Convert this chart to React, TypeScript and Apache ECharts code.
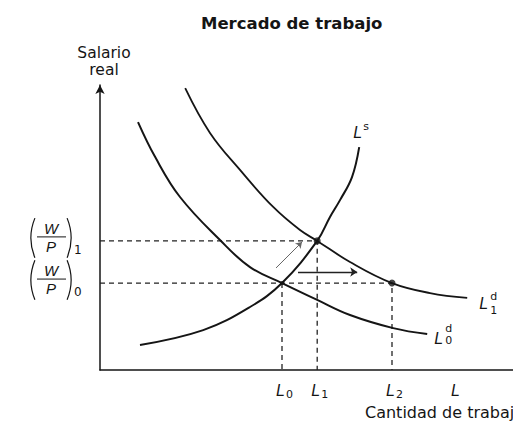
import React, { useEffect, useRef } from "react";
import * as echarts from "echarts";

// Labour supply curve L^s
const supplyX = [1.0, 2.58, 3.75, 4.55, 5.43, 5.75, 6.0, 6.3, 6.48];
const supplyY = [0.88, 1.4, 2.21, 3.05, 4.53, 5.37, 5.96, 6.77, 7.82];
// Labour demand curve L0^d
const demand0X = [0.95, 1.38, 2.0, 3.0, 3.75, 4.55, 5.43, 6.25, 7.33, 8.18];
const demand0Y = [8.7, 7.47, 6.07, 4.56, 3.61, 3.05, 2.46, 1.93, 1.47, 1.26];
// Labour demand curve L1^d
const demand1X = [2.13, 2.75, 3.5, 4.33, 5.0, 5.43, 6.25, 7.3, 8.25, 9.18];
const demand1Y = [9.89, 8.32, 7.02, 5.72, 4.91, 4.53, 3.79, 3.05, 2.7, 2.53];
// Real wage levels (W/P)0, (W/P)1
const wageLevels = [3.05, 4.53];
const wageSubs = ["0", "1"];
// Employment levels L0, L1, L2 and the "L" axis mark
const employmentLevels = [4.55, 5.43, 7.3];
const employmentSubs = ["0", "1", "2"];
const axisMarkL = 8.9;
// Shift arrows
const shiftArrowFrom = [4.95, 3.44];
const shiftArrowTo = [6.43, 3.44];
const wageArrowFrom = [4.4, 3.58];
const wageArrowTo = [5.05, 4.49];

const SANS = "DejaVu Sans";
const ITAL = "Liberation Sans";
const INK = "#151515";

function txt(x: number, y: number, text: string, size: number, opts: any = {}) {
  return {
    type: "text",
    x,
    y,
    silent: true,
    style: {
      text,
      fontSize: size,
      fontFamily: opts.family || SANS,
      fontStyle: opts.italic ? "italic" : "normal",
      fontWeight: opts.bold ? "bold" : "normal",
      fill: INK,
      textAlign: opts.align || "left",
      align: opts.align || "left",
      textVerticalAlign: opts.valign || "top",
      verticalAlign: opts.valign || "top",
    },
  };
}

export default function App() {
  const ref = useRef<HTMLDivElement>(null);
  useEffect(() => {
    const el = ref.current!;
    const chart = echarts.init(el, null, { renderer: "svg" });
    const pair = (xs: number[], ys: number[]) => xs.map((x, i) => [x, ys[i]]);
    const curve = (xs: number[], ys: number[], w: number) => ({
      type: "line",
      data: pair(xs, ys),
      smooth: 0.4,
      symbol: "none",
      showSymbol: false,
      silent: true,
      z: 3,
      lineStyle: { color: INK, width: w },
    });
    const dashed = (pts: number[][]) => ({
      type: "line",
      data: pts,
      symbol: "none",
      silent: true,
      z: 2,
      lineStyle: { color: "#222", width: 1.3, type: [5, 4] },
    });
    const [w0, w1] = wageLevels;
    const [L0, L1, L2] = employmentLevels;
    const axisBase = {
      type: "value",
      axisTick: { show: false },
      axisLabel: { show: false },
      splitLine: { show: false },
    };
    chart.setOption({
      animation: false,
      title: {
        text: "Mercado de trabajo",
        left: 196,
        top: 10,
        textStyle: { fontFamily: SANS, fontWeight: "bold", fontSize: 16.5, color: INK },
      },
      grid: { left: 100, right: 0, top: 85, bottom: 56 },
      xAxis: {
        ...axisBase,
        min: 0,
        max: 10.325,
        axisLine: { show: true, onZero: false, lineStyle: { color: INK, width: 1.5 } },
      },
      yAxis: {
        ...axisBase,
        min: 0,
        max: 10,
        axisLine: {
          show: true,
          onZero: false,
          symbol: ["none", "arrow"],
          symbolSize: [7, 9],
          lineStyle: { color: INK, width: 1.5 },
        },
      },
      series: [
        dashed([[0, w1], [L1, w1], [L1, 0]]),
        dashed([[0, w0], [L2, w0], [L2, 0]]),
        dashed([[L0, w0], [L0, 0]]),
        curve(supplyX, supplyY, 2),
        curve(demand0X, demand0Y, 2),
        curve(demand1X, demand1Y, 1.8),
        {
          type: "scatter",
          data: [[L1, w1], [L2, w0]],
          symbolSize: 7,
          itemStyle: { color: INK },
          silent: true,
          z: 4,
        },
        {
          type: "scatter",
          data: [[L0, w0]],
          symbolSize: 4,
          itemStyle: { color: INK },
          silent: true,
          z: 4,
        },
        {
          type: "lines",
          coordinateSystem: "cartesian2d",
          data: [{ coords: [wageArrowFrom, wageArrowTo] }],
          symbol: ["none", "arrow"],
          symbolSize: 6,
          silent: true,
          lineStyle: { color: "#666", width: 1, opacity: 1 },
        },
        {
          type: "lines",
          coordinateSystem: "cartesian2d",
          data: [{ coords: [shiftArrowFrom, shiftArrowTo] }],
          symbol: ["none", "arrow"],
          symbolSize: 7,
          silent: true,
          lineStyle: { color: "#222", width: 1.3, opacity: 1 },
        },
      ],
    });

    const px = (p: number[]) => chart.convertToPixel({ gridIndex: 0 }, p) as number[];
    const g: any[] = [];
    g.push(txt(104, 45, "Salario", 15.5, { align: "center" }));
    g.push(txt(104, 62, "real", 15.5, { align: "center" }));
    g.push(txt(365, 404, "Cantidad de trabajo", 16));

    // x-axis marks
    employmentLevels.forEach((v, i) => {
      const [x, y] = px([v, 0]);
      g.push(txt(x - 6, y + 12, "L", 16, { italic: true, family: ITAL }));
      g.push(txt(x + 4, y + 19, employmentSubs[i], 11));
    });
    {
      const [x, y] = px([axisMarkL, 0]);
      g.push(txt(x - 5, y + 12, "L", 16, { italic: true, family: ITAL }));
    }

    // y-axis fraction labels
    wageLevels.forEach((v, i) => {
      const [, py] = px([0, v]);
      const yc = py - 4;
      const r = 52;
      const a = 0.39;
      g.push({
        type: "arc",
        silent: true,
        shape: { cx: 31 + r, cy: yc + 1, r, startAngle: Math.PI - a, endAngle: Math.PI + a },
        style: { stroke: INK, lineWidth: 1.2, fill: "none" },
      });
      g.push({
        type: "arc",
        silent: true,
        shape: { cx: 71 - r, cy: yc + 1, r, startAngle: -a, endAngle: a },
        style: { stroke: INK, lineWidth: 1.2, fill: "none" },
      });
      g.push(txt(51, yc - 1, "W", 15, { italic: true, family: ITAL, align: "center", valign: "bottom" }));
      g.push({
        type: "line",
        silent: true,
        shape: { x1: 37, y1: yc, x2: 66, y2: yc },
        style: { stroke: INK, lineWidth: 1 },
      });
      g.push(txt(51, yc + 2, "P", 15, { italic: true, family: ITAL, align: "center" }));
      g.push(txt(74, yc + 7, wageSubs[i], 12));
    });

    // curve labels
    {
      const [x, y] = px([supplyX[supplyX.length - 1], supplyY[supplyY.length - 1]]);
      g.push(txt(x - 6, y - 23, "L", 16, { italic: true, family: ITAL }));
      g.push(txt(x + 4, y - 26, "s", 11));
    }
    {
      const [x, y] = px([demand1X[demand1X.length - 1], demand1Y[demand1Y.length - 1]]);
      g.push(txt(x + 12, y - 2, "L", 16, { italic: true, family: ITAL }));
      g.push(txt(x + 23, y - 7, "d", 11));
      g.push(txt(x + 23, y + 7, "1", 11));
    }
    {
      const [x, y] = px([demand0X[demand0X.length - 1], demand0Y[demand0Y.length - 1]]);
      g.push(txt(x + 7, y - 4, "L", 16, { italic: true, family: ITAL }));
      g.push(txt(x + 18, y - 11, "d", 11));
      g.push(txt(x + 18, y + 1, "0", 11));
    }
    chart.setOption({ graphic: g });

    return () => chart.dispose();
  }, []);
  return (
    <div
      ref={ref}
      style={{ position: "fixed", left: 0, top: 0, width: 513, height: 426, background: "#fff" }}
    />
  );
}
